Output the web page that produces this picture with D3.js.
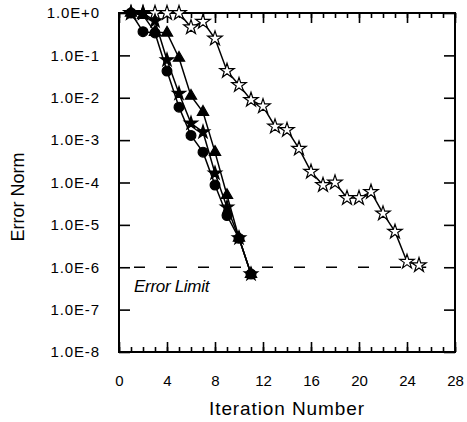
<!DOCTYPE html>
<html>
<head>
<meta charset="utf-8">
<script src="https://cdn.jsdelivr.net/npm/d3@7"></script>
<style>
body { margin: 0; background: #fff; }
text { font-family: "Liberation Sans", Arial, sans-serif; fill: #000; }
</style>
</head>
<body>
<script>
// values
var iter_fast = [1, 2, 3, 4, 5, 6, 7, 8, 9, 10, 11];
var circle_vals = [1, 0.363, 0.339, 0.0427, 6.0e-3, 1.29e-3, 5.2e-4, 8.7e-5, 1.66e-5, 4.8e-6, 6.9e-7];
var triangle_vals = [1, 0.89, 0.355, 0.34, 0.087, 0.011, 4.6e-3, 5.2e-4, 5.0e-5, 4.9e-6, 6.9e-7];
var solid_star_vals = [1, 1, 0.65, 0.078, 0.0126, 2.5e-3, 1.55e-3, 1.66e-4, 2.6e-5, 4.9e-6, 6.9e-7];

var iter_slow = [1, 2, 3, 4, 5, 6, 7, 8, 9, 10, 11, 12, 13, 14, 15, 16, 17, 18, 19, 20, 21, 22, 23, 24, 25];
var open_star_vals = [1, 1, 1, 1, 1, 0.46, 0.62, 0.25, 0.043, 0.02, 8.9e-3, 6.3e-3, 2.1e-3, 1.74e-3,
  6.3e-4, 1.8e-4, 8.7e-5, 1.0e-4, 4.3e-5, 4.3e-5, 6.0e-5, 1.86e-5, 6.9e-6, 1.35e-6, 1.12e-6];

var error_limit = 1e-6;
var x_ticks = [0, 4, 8, 12, 16, 20, 24, 28];
var y_ticks = [1, 1e-1, 1e-2, 1e-3, 1e-4, 1e-5, 1e-6, 1e-7, 1e-8];
var y_tick_labels = ["1.0E+0", "1.0E-1", "1.0E-2", "1.0E-3", "1.0E-4", "1.0E-5", "1.0E-6", "1.0E-7", "1.0E-8"];

var margin = {top: 13, left: 119, right: 12, bottom: 70};
var width = 455 - margin.left;
var height = 352 - margin.top;

var svg = d3.select("body").append("svg")
  .attr("width", 467)
  .attr("height", 422);

var plot = svg.append("g")
  .attr("transform", "translate(" + margin.left + "," + margin.top + ")");

var x = d3.scaleLinear().domain([0, 28]).range([0, width]);
var y = d3.scaleLog().domain([1e-8, 1]).range([height, 0]);

// axes: ticks all point inward
var xb = plot.append("g")
  .attr("transform", "translate(0," + height + ")")
  .call(d3.axisBottom(x).tickValues(x_ticks).tickSize(-10).tickPadding(23).tickFormat(d3.format("d")));
plot.append("g")
  .attr("transform", "translate(0," + height + ")")
  .call(d3.axisBottom(x).tickValues(d3.range(0, 29)).tickSize(-5).tickFormat(""));
plot.append("g")
  .call(d3.axisTop(x).tickValues(x_ticks).tickSize(-10).tickFormat(""));
plot.append("g")
  .call(d3.axisTop(x).tickValues(d3.range(0, 29)).tickSize(-5).tickFormat(""));
var yl = plot.append("g")
  .call(d3.axisLeft(y).tickValues(y_ticks).tickSize(-11).tickPadding(19)
    .tickFormat(function(d, i) { return y_tick_labels[i]; }));
plot.append("g")
  .attr("transform", "translate(" + width + ",0)")
  .call(d3.axisRight(y).tickValues(y_ticks).tickSize(-11).tickFormat(""));

plot.selectAll(".domain").remove();
plot.selectAll(".tick line").attr("stroke", "#000").attr("stroke-width", 1.6);
xb.selectAll("text").style("font-size", "15px");
yl.selectAll("text").style("font-size", "15px").style("letter-spacing", "0.9px");

plot.append("rect")
  .attr("x", 0).attr("y", 0)
  .attr("width", width).attr("height", height)
  .attr("fill", "none")
  .attr("stroke", "#000")
  .attr("stroke-width", 2);

// error limit
plot.append("line")
  .attr("x1", x(1.25)).attr("x2", x(25.6))
  .attr("y1", y(error_limit)).attr("y2", y(error_limit))
  .attr("stroke", "#000")
  .attr("stroke-width", 1.4)
  .attr("stroke-dasharray", "11,21");
plot.append("text")
  .attr("x", x(1.25))
  .attr("y", y(error_limit) + 25)
  .style("font-size", "17px")
  .style("font-style", "italic")
  .style("letter-spacing", "-0.3px")
  .text("Error Limit");

var line = d3.line()
  .x(function(d) { return x(d[0]); })
  .y(function(d) { return y(d[1]); });

var series = [
  {xs: iter_slow, vals: open_star_vals, symbol: d3.symbolStar, size: 65, fill: "#fff"},
  {xs: iter_fast, vals: solid_star_vals, symbol: d3.symbolStar, size: 55, fill: "#000"},
  {xs: iter_fast, vals: triangle_vals, symbol: d3.symbolTriangle, size: 55, fill: "#000"},
  {xs: iter_fast, vals: circle_vals, symbol: d3.symbolCircle, size: 75, fill: "#000"}
];

series.forEach(function(s) {
  var pts = s.xs.map(function(d, i) { return [d, s.vals[i]]; });
  plot.append("path")
    .datum(pts)
    .attr("d", line)
    .attr("fill", "none")
    .attr("stroke", "#000")
    .attr("stroke-width", 1.5);
  plot.append("g").selectAll("path")
    .data(pts)
    .enter().append("path")
    .attr("transform", function(d) { return "translate(" + x(d[0]) + "," + y(d[1]) + ")"; })
    .attr("d", d3.symbol().type(s.symbol).size(s.size))
    .attr("fill", s.fill)
    .attr("stroke", "#000")
    .attr("stroke-width", 1.2);
});

// axis titles
svg.append("text")
  .attr("x", margin.left + width / 2)
  .attr("y", 415)
  .attr("text-anchor", "middle")
  .style("font-size", "19px")
  .style("letter-spacing", "0.9px")
  .text("Iteration Number");
svg.append("text")
  .attr("transform", "translate(24,197) rotate(-90)")
  .attr("text-anchor", "middle")
  .style("font-size", "18px")
  .text("Error Norm");
</script>
</body>
</html>
